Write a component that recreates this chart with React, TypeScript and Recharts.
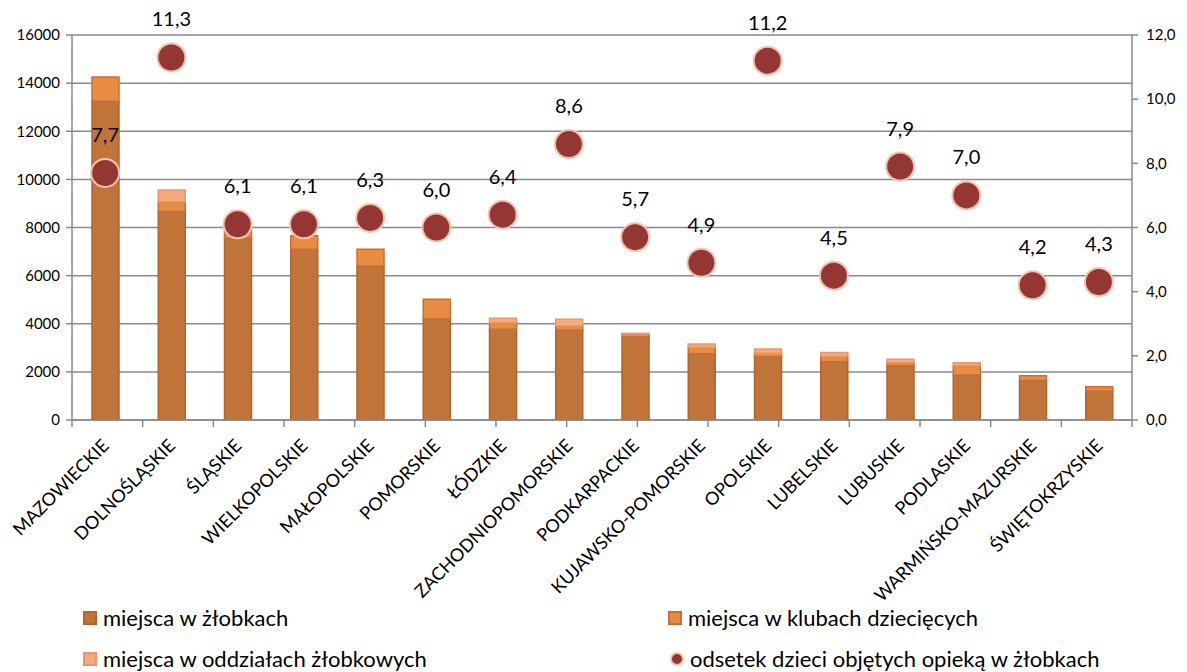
import React from 'react';
import { ComposedChart, Bar, Scatter, XAxis, YAxis, CartesianGrid, ReferenceLine } from 'recharts';

const categories = [
  'MAZOWIECKIE', 'DOLNOŚLĄSKIE', 'ŚLĄSKIE', 'WIELKOPOLSKIE', 'MAŁOPOLSKIE', 'POMORSKIE',
  'ŁÓDZKIE', 'ZACHODNIOPOMORSKIE', 'PODKARPACKIE', 'KUJAWSKO-POMORSKIE', 'OPOLSKIE',
  'LUBELSKIE', 'LUBUSKIE', 'PODLASKIE', 'WARMIŃSKO-MAZURSKIE', 'ŚWIĘTOKRZYSKIE',
];
const zlobki = [13250, 8660, 7560, 7100, 6400, 4200, 3770, 3740, 3450, 2750, 2630, 2420, 2250, 1870, 1640, 1210];
const kluby = [1000, 410, 380, 560, 700, 820, 275, 180, 120, 270, 140, 230, 130, 390, 200, 170];
const oddzialy = [0, 490, 40, 0, 0, 0, 185, 265, 30, 140, 180, 160, 140, 120, 0, 0];
const odsetek = [7.7, 11.3, 6.1, 6.1, 6.3, 6.0, 6.4, 8.6, 5.7, 4.9, 11.2, 4.5, 7.9, 7.0, 4.2, 4.3];
const leftTicks = [0, 2000, 4000, 6000, 8000, 10000, 12000, 14000, 16000];
const rightTicks = [0, 2, 4, 6, 8, 10, 12];
const boundaries = [0, 1, 2, 3, 4, 5, 6, 7, 8, 9, 10, 11, 12, 13, 14, 15, 16];

const data = categories.map((name, i) => ({
  name, zlobki: zlobki[i], kluby: kluby[i], oddzialy: oddzialy[i], odsetek: odsetek[i],
}));

const FONT = 'Lato, "Open Sans", sans-serif';
const AXIS = '#8a8a8a';
const C_ZL = '#c0743a';
const C_KL = '#e88c42';
const C_OD = '#f6ab7d';
const C_DOT = '#943634';
const C_DOT_STROKE = '#f4c4ae';
const TICK_LEN_UNITS = 290;

const fmt = (v: number) => v.toFixed(1).replace('.', ',');

const XTick = (props: any) => {
  const { x, y, payload } = props;
  const ax = x + 5;
  const ay = y + 27;
  return (
    <text x={ax} y={ay} transform={`rotate(-45 ${ax} ${ay})`} textAnchor="end"
      fontSize={18} fontFamily={FONT} fill="#000">{payload.value}</text>
  );
};

const DotShape = (props: any) => {
  const { cx, cy, payload } = props;
  return (
    <g>
      <circle cx={cx} cy={cy} r={14} fill={C_DOT} stroke={C_DOT_STROKE} strokeWidth={2} />
      <text x={cx} y={cy - 31} textAnchor="middle" fontSize={20} fontFamily={FONT} fill="#000">
        {fmt(payload.odsetek)}
      </text>
    </g>
  );
};

const LegendItem = ({ left, top, color, stroke, label, round }: any) => (
  <div style={{ position: 'absolute', left, top, height: 24, display: 'flex', alignItems: 'center',
    fontFamily: FONT, fontSize: 22, lineHeight: '24px', color: '#000', whiteSpace: 'nowrap' }}>
    <span style={{ display: 'inline-block', boxSizing: 'border-box', width: 14, height: 14,
      background: color, border: `2px solid ${stroke}`, borderRadius: round ? '50%' : 0, marginRight: 6 }} />
    {label}
  </div>
);

export default function App() {
  return (
    <div style={{ position: 'absolute', left: 0, top: 0, width: 1187, height: 672, background: '#fff', overflow: 'hidden' }}>
      <ComposedChart width={1187} height={672} data={data}
        margin={{ top: 35, right: 0, bottom: 0, left: 0 }} barSize={27}>
        <CartesianGrid yAxisId="left" xAxisId="cat" vertical={false} stroke={AXIS} strokeWidth={1.5} />
        <XAxis xAxisId="b" type="number" domain={[0, 16]} hide height={0} allowDataOverflow />
        <XAxis xAxisId="cat" dataKey="name" type="category" stroke={AXIS} strokeWidth={1.5}
          tickLine={false} tickSize={0} tickMargin={0} interval={0} height={252}
          tick={(p: any) => <XTick {...p} />} />
        <YAxis yAxisId="left" orientation="left" domain={[0, 16000]} ticks={leftTicks} width={72}
          stroke={AXIS} strokeWidth={1.5} tickSize={6} tickMargin={6} interval={0} allowDataOverflow
          tick={{ fill: '#000', fontSize: 15, fontFamily: FONT }} />
        <YAxis yAxisId="right" orientation="right" domain={[0, 12]} ticks={rightTicks} width={55}
          stroke={AXIS} strokeWidth={1.5} tickSize={6} tickMargin={8} interval={0}
          tick={{ fill: '#000', fontSize: 15, fontFamily: FONT }} tickFormatter={(v: number) => fmt(v)} />
        <Bar xAxisId="cat" yAxisId="left" dataKey="zlobki" stackId="a" fill={C_ZL} stroke="#b3652c" strokeWidth={1.5} isAnimationActive={false} />
        <Bar xAxisId="cat" yAxisId="left" dataKey="kluby" stackId="a" fill={C_KL} stroke="#c8703a" strokeWidth={1.5} isAnimationActive={false} />
        <Bar xAxisId="cat" yAxisId="left" dataKey="oddzialy" stackId="a" fill={C_OD} stroke="#e39a70" strokeWidth={1.5} isAnimationActive={false} />
        <Scatter xAxisId="cat" yAxisId="right" dataKey="odsetek" shape={<DotShape />} isAnimationActive={false} />
        {boundaries.map((b) => (
          <ReferenceLine key={b} xAxisId="b" yAxisId="left"
            segment={[{ x: b, y: 0 }, { x: b, y: -TICK_LEN_UNITS }]}
            stroke={AXIS} strokeWidth={1.5} ifOverflow="visible" />
        ))}
      </ComposedChart>
      <LegendItem left={83} top={606} color={C_ZL} stroke="#b3652c" label="miejsca w żłobkach" />
      <LegendItem left={668} top={606} color={C_KL} stroke="#c8703a" label="miejsca w klubach dziecięcych" />
      <LegendItem left={83} top={647} color={C_OD} stroke="#e39a70" label="miejsca w oddziałach żłobkowych" />
      <LegendItem left={670} top={647} color={C_DOT} stroke={C_DOT_STROKE} label="odsetek dzieci objętych opieką w żłobkach" round />
    </div>
  );
}
